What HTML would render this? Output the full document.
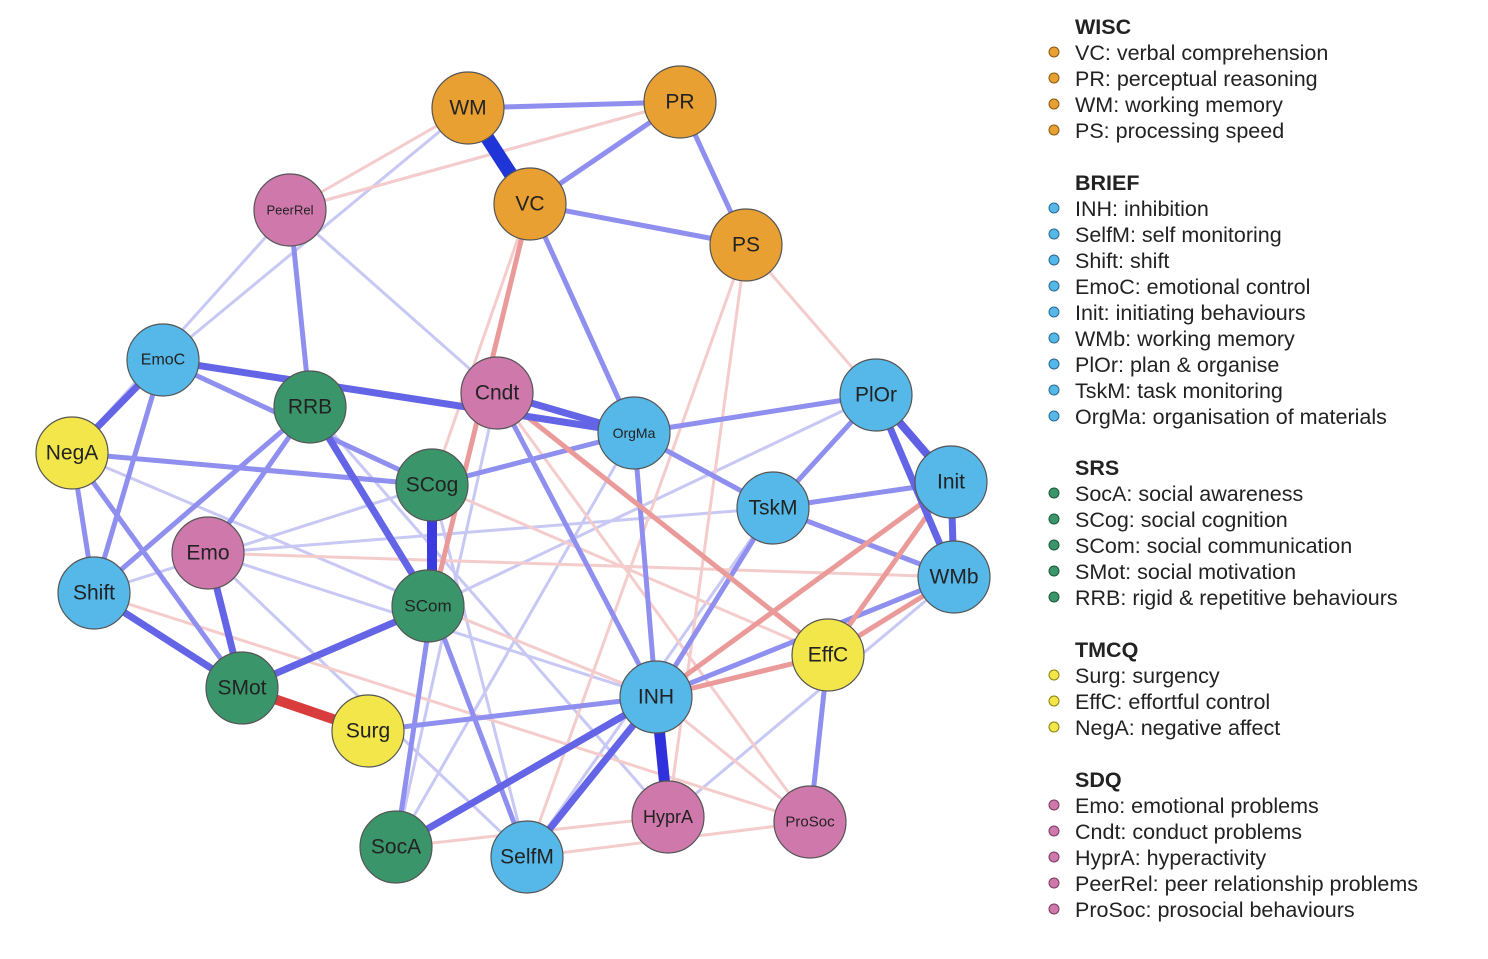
<!DOCTYPE html>
<html><head><meta charset="utf-8"><style>
html,body{margin:0;padding:0;background:#fff;width:1488px;height:959px;overflow:hidden}
svg{position:absolute;left:0;top:0}
text{font-family:"Liberation Sans",sans-serif}
</style></head><body>
<svg width="1488" height="959" viewBox="0 0 1488 959">
<g stroke-linecap="round" fill="none">
<!-- faint lines -->
<g stroke="#c8c8f4" stroke-width="3">
<line x1="468" y1="108" x2="163" y2="360"/><line x1="680" y1="102" x2="290" y2="210"/>
<line x1="290" y1="210" x2="72" y2="453"/><line x1="290" y1="210" x2="497" y2="393"/>
<line x1="163" y1="360" x2="432" y2="485"/><line x1="310" y1="407" x2="94" y2="593"/>
<line x1="497" y1="393" x2="396" y2="847"/><line x1="634" y1="433" x2="396" y2="847"/>
<line x1="432" y1="485" x2="527" y2="857"/><line x1="208" y1="553" x2="527" y2="857"/>
<line x1="773" y1="508" x2="527" y2="857"/><line x1="94" y1="593" x2="432" y2="485"/>
<line x1="876" y1="395" x2="432" y2="606"/><line x1="954" y1="577" x2="668" y2="817"/>
<line x1="773" y1="508" x2="208" y2="553"/><line x1="208" y1="553" x2="656" y2="697"/>
<line x1="72" y1="453" x2="432" y2="606"/><line x1="310" y1="407" x2="668" y2="817"/>
</g>
<g stroke="#f4cccc" stroke-width="3">
<line x1="468" y1="108" x2="290" y2="210"/><line x1="680" y1="102" x2="290" y2="210"/>
<line x1="746" y1="245" x2="668" y2="817"/><line x1="746" y1="245" x2="876" y2="395"/>
<line x1="746" y1="245" x2="527" y2="857"/><line x1="497" y1="393" x2="810" y2="822"/>
<line x1="432" y1="606" x2="656" y2="697"/><line x1="954" y1="577" x2="208" y2="553"/>
<line x1="94" y1="593" x2="810" y2="822"/><line x1="396" y1="847" x2="668" y2="817"/>
<line x1="527" y1="857" x2="810" y2="822"/><line x1="656" y1="697" x2="810" y2="822"/>
<line x1="530" y1="204" x2="432" y2="485"/><line x1="432" y1="485" x2="828" y2="655"/>
</g>
<!-- medium blue -->
<g stroke="#8f8fef" stroke-width="5">
<line x1="468" y1="108" x2="680" y2="102"/><line x1="680" y1="102" x2="530" y2="204"/>
<line x1="680" y1="102" x2="746" y2="245"/><line x1="530" y1="204" x2="746" y2="245"/>
<line x1="530" y1="204" x2="634" y2="433"/><line x1="290" y1="210" x2="310" y2="407"/>
<line x1="72" y1="453" x2="432" y2="485"/><line x1="72" y1="453" x2="94" y2="593"/>
<line x1="72" y1="453" x2="242" y2="688"/><line x1="163" y1="360" x2="94" y2="593"/>
<line x1="310" y1="407" x2="94" y2="593"/><line x1="432" y1="485" x2="634" y2="433"/>
<line x1="634" y1="433" x2="876" y2="395"/><line x1="634" y1="433" x2="773" y2="508"/>
<line x1="634" y1="433" x2="656" y2="697"/><line x1="497" y1="393" x2="656" y2="697"/>
<line x1="876" y1="395" x2="773" y2="508"/><line x1="773" y1="508" x2="951" y2="482"/>
<line x1="773" y1="508" x2="656" y2="697"/><line x1="773" y1="508" x2="954" y2="577"/>
<line x1="828" y1="655" x2="810" y2="822"/><line x1="368" y1="731" x2="656" y2="697"/>
<line x1="432" y1="606" x2="396" y2="847"/><line x1="432" y1="606" x2="527" y2="857"/>
<line x1="163" y1="360" x2="432" y2="485"/><line x1="94" y1="593" x2="242" y2="688"/>
<line x1="656" y1="697" x2="954" y2="577"/><line x1="310" y1="407" x2="208" y2="553"/>
</g>
<g stroke="#eb9a9a" stroke-width="5">
<line x1="530" y1="204" x2="432" y2="606"/><line x1="497" y1="393" x2="828" y2="655"/>
<line x1="656" y1="697" x2="828" y2="655"/><line x1="828" y1="655" x2="951" y2="482"/>
<line x1="828" y1="655" x2="954" y2="577"/><line x1="656" y1="697" x2="951" y2="482"/>
</g>
<!-- strong -->
<g stroke="#6464e6" stroke-width="7">
<line x1="163" y1="360" x2="634" y2="433"/><line x1="163" y1="360" x2="72" y2="453"/>
<line x1="310" y1="407" x2="432" y2="606"/><line x1="497" y1="393" x2="634" y2="433"/>
<line x1="876" y1="395" x2="954" y2="577"/><line x1="951" y1="482" x2="954" y2="577"/>
<line x1="208" y1="553" x2="242" y2="688"/><line x1="242" y1="688" x2="432" y2="606"/>
<line x1="94" y1="593" x2="242" y2="688"/><line x1="656" y1="697" x2="527" y2="857"/>
<line x1="656" y1="697" x2="396" y2="847"/>
</g>
<line x1="876" y1="395" x2="951" y2="482" stroke="#6060e4" stroke-width="8"/>
<line x1="432" y1="485" x2="432" y2="606" stroke="#3b3be0" stroke-width="10"/>
<line x1="656" y1="697" x2="668" y2="817" stroke="#3030dc" stroke-width="11"/>
<line x1="468" y1="108" x2="530" y2="204" stroke="#1f35d8" stroke-width="14"/>
<line x1="242" y1="688" x2="368" y2="731" stroke="#d83c3c" stroke-width="10"/>
</g>
<g stroke="#555" stroke-width="1.2">
<circle cx="468" cy="108" r="36" fill="#E9A033"/><circle cx="680" cy="102" r="36" fill="#E9A033"/>
<circle cx="530" cy="204" r="36" fill="#E9A033"/><circle cx="746" cy="245" r="36" fill="#E9A033"/>
<circle cx="290" cy="210" r="36" fill="#CF78AC"/><circle cx="163" cy="360" r="36" fill="#55B8E8"/>
<circle cx="310" cy="407" r="36" fill="#3A966A"/><circle cx="497" cy="393" r="36" fill="#CF78AC"/>
<circle cx="634" cy="433" r="36" fill="#55B8E8"/><circle cx="876" cy="395" r="36" fill="#55B8E8"/>
<circle cx="72" cy="453" r="36" fill="#F3E64A"/><circle cx="432" cy="485" r="36" fill="#3A966A"/>
<circle cx="951" cy="482" r="36" fill="#55B8E8"/><circle cx="773" cy="508" r="36" fill="#55B8E8"/>
<circle cx="208" cy="553" r="36" fill="#CF78AC"/><circle cx="94" cy="593" r="36" fill="#55B8E8"/>
<circle cx="428" cy="606" r="36" fill="#3A966A"/><circle cx="954" cy="577" r="36" fill="#55B8E8"/>
<circle cx="828" cy="655" r="36" fill="#F3E64A"/><circle cx="242" cy="688" r="36" fill="#3A966A"/>
<circle cx="368" cy="731" r="36" fill="#F3E64A"/><circle cx="656" cy="697" r="36" fill="#55B8E8"/>
<circle cx="668" cy="817" r="36" fill="#CF78AC"/><circle cx="810" cy="822" r="36" fill="#CF78AC"/>
<circle cx="396" cy="847" r="36" fill="#3A966A"/><circle cx="527" cy="857" r="36" fill="#55B8E8"/>
</g>
<g font-size="21" fill="#222" text-anchor="middle" dominant-baseline="central">
<text x="468" y="108">WM</text><text x="680" y="102">PR</text><text x="530" y="204">VC</text>
<text x="746" y="245">PS</text><text x="290" y="210" font-size="13">PeerRel</text>
<text x="163" y="360" font-size="16">EmoC</text><text x="310" y="407">RRB</text>
<text x="497" y="393">Cndt</text><text x="634" y="433" font-size="14">OrgMa</text>
<text x="876" y="395">PlOr</text><text x="72" y="453">NegA</text><text x="432" y="485">SCog</text>
<text x="951" y="482">Init</text><text x="773" y="508">TskM</text><text x="208" y="553">Emo</text>
<text x="94" y="593">Shift</text><text x="428" y="606" font-size="17">SCom</text>
<text x="954" y="577">WMb</text><text x="828" y="655">EffC</text><text x="242" y="688">SMot</text>
<text x="368" y="731">Surg</text><text x="656" y="697">INH</text><text x="668" y="817" font-size="18">HyprA</text>
<text x="810" y="822" font-size="15">ProSoc</text><text x="396" y="847">SocA</text><text x="527" y="857">SelfM</text>
</g>
<g font-size="21.5" fill="#222">
<text x="1075" y="34" font-weight="bold">WISC</text>
<text x="1075" y="60">VC: verbal comprehension</text><text x="1075" y="86">PR: perceptual reasoning</text>
<text x="1075" y="112">WM: working memory</text><text x="1075" y="138">PS: processing speed</text>
<text x="1075" y="190" font-weight="bold">BRIEF</text>
<text x="1075" y="216">INH: inhibition</text><text x="1075" y="242">SelfM: self monitoring</text>
<text x="1075" y="268">Shift: shift</text><text x="1075" y="294">EmoC: emotional control</text>
<text x="1075" y="320">Init: initiating behaviours</text><text x="1075" y="346">WMb: working memory</text>
<text x="1075" y="372">PlOr: plan &amp; organise</text><text x="1075" y="398">TskM: task monitoring</text>
<text x="1075" y="424">OrgMa: organisation of materials</text>
<text x="1075" y="475" font-weight="bold">SRS</text>
<text x="1075" y="501">SocA: social awareness</text><text x="1075" y="527">SCog: social cognition</text>
<text x="1075" y="553">SCom: social communication</text><text x="1075" y="579">SMot: social motivation</text>
<text x="1075" y="605">RRB: rigid &amp; repetitive behaviours</text>
<text x="1075" y="657" font-weight="bold">TMCQ</text>
<text x="1075" y="683">Surg: surgency</text><text x="1075" y="709">EffC: effortful control</text>
<text x="1075" y="735">NegA: negative affect</text>
<text x="1075" y="787" font-weight="bold">SDQ</text>
<text x="1075" y="813">Emo: emotional problems</text><text x="1075" y="839">Cndt: conduct problems</text>
<text x="1075" y="865">HyprA: hyperactivity</text><text x="1075" y="891">PeerRel: peer relationship problems</text>
<text x="1075" y="917">ProSoc: prosocial behaviours</text>
</g>
<g stroke="#8a5a10" stroke-width="1">
<circle cx="1054" cy="52" r="5" fill="#E9A033"/><circle cx="1054" cy="78" r="5" fill="#E9A033"/>
<circle cx="1054" cy="104" r="5" fill="#E9A033"/><circle cx="1054" cy="130" r="5" fill="#E9A033"/>
</g>
<g stroke="#2a6a90" stroke-width="1" fill="#55B8E8">
<circle cx="1054" cy="208" r="5"/><circle cx="1054" cy="234" r="5"/><circle cx="1054" cy="260" r="5"/>
<circle cx="1054" cy="286" r="5"/><circle cx="1054" cy="312" r="5"/><circle cx="1054" cy="338" r="5"/>
<circle cx="1054" cy="364" r="5"/><circle cx="1054" cy="390" r="5"/><circle cx="1054" cy="416" r="5"/>
</g>
<g stroke="#1a5a3a" stroke-width="1" fill="#3A966A">
<circle cx="1054" cy="493" r="5"/><circle cx="1054" cy="519" r="5"/><circle cx="1054" cy="545" r="5"/>
<circle cx="1054" cy="571" r="5"/><circle cx="1054" cy="597" r="5"/>
</g>
<g stroke="#8a8010" stroke-width="1" fill="#F3E64A">
<circle cx="1054" cy="675" r="5"/><circle cx="1054" cy="701" r="5"/><circle cx="1054" cy="727" r="5"/>
</g>
<g stroke="#7a3a60" stroke-width="1" fill="#CF78AC">
<circle cx="1054" cy="805" r="5"/><circle cx="1054" cy="831" r="5"/><circle cx="1054" cy="857" r="5"/>
<circle cx="1054" cy="883" r="5"/><circle cx="1054" cy="909" r="5"/>
</g>
</svg>
</body></html>
